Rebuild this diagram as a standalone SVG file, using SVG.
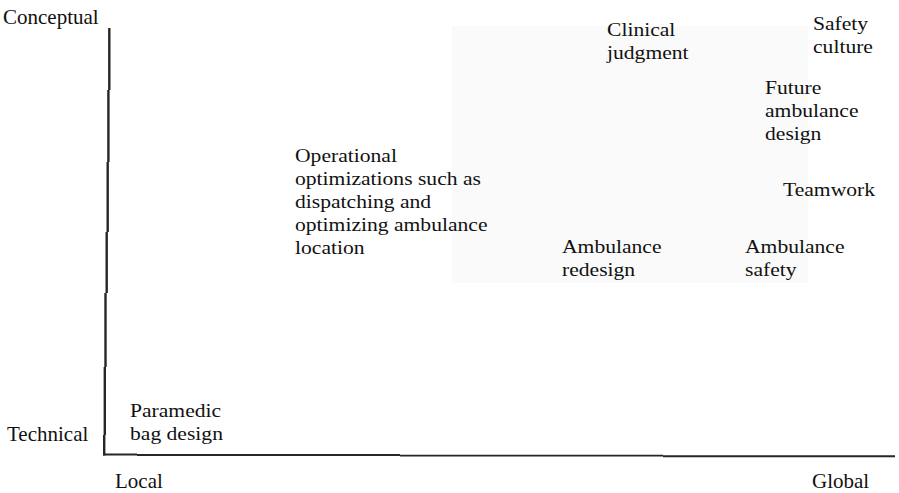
<svg xmlns="http://www.w3.org/2000/svg" width="899" height="493" viewBox="0 0 899 493">
  <style>
    text { font-family: "Liberation Serif", "Times New Roman", serif; fill: #111111; }
    .axis-label { font-size: 21px; }
    .item { font-size: 18px; }
    .axis { stroke: #262626; fill: none; stroke-linecap: butt; }
    .zone { fill: #fafafa; stroke: none; }
  </style>

  <rect width="899" height="493" fill="#ffffff"/>

  <!-- shaded area behind the global / conceptual items -->
  <rect id="zone" class="zone" x="452" y="26" width="356" height="257"/>

  <!-- hand-drawn axes -->
  <g id="connectors">
    <g id="vertical-axis" class="axis" stroke-width="2.4">
      <line x1="109.3" y1="28" x2="109.3" y2="90"/>
      <line x1="108.4" y1="90" x2="108.4" y2="162"/>
      <line x1="107.7" y1="162" x2="107.7" y2="232"/>
      <line x1="106.7" y1="232" x2="106.7" y2="293"/>
      <line x1="105.5" y1="293" x2="105.5" y2="367"/>
      <line x1="104.8" y1="367" x2="104.8" y2="435"/>
      <line x1="104.2" y1="435" x2="104.2" y2="455.5"/>
    </g>
    <g id="horizontal-axis" class="axis" stroke-width="1.9">
      <line x1="103" y1="454.5" x2="137" y2="454.5"/>
      <line x1="137" y1="455" x2="400" y2="455"/>
      <line x1="400" y1="455.6" x2="663" y2="455.6"/>
      <line x1="663" y1="456.3" x2="895" y2="456.3"/>
    </g>
  </g>

  <!-- axis labels -->
  <g id="axis-labels">
    <text class="axis-label" x="3" y="24">Conceptual</text>
    <text class="axis-label" x="7" y="441">Technical</text>
    <text class="axis-label" x="115" y="488">Local</text>
    <text class="axis-label" x="812" y="488">Global</text>
  </g>

  <!-- plotted items (type set slightly wide) -->
  <g id="paramedic-bag">
    <text class="item" transform="translate(130 417) scale(1.2 1)"><tspan x="0" y="0">Paramedic</tspan><tspan x="0" y="23">bag design</tspan></text>
  </g>

  <g id="operational">
    <text class="item" transform="translate(295 162) scale(1.2 1)"><tspan x="0" y="0">Operational</tspan><tspan x="0" y="23">optimizations such as</tspan><tspan x="0" y="46">dispatching and</tspan><tspan x="0" y="69">optimizing ambulance</tspan><tspan x="0" y="92">location</tspan></text>
  </g>

  <g id="clinical-judgment">
    <text class="item" transform="translate(607 36) scale(1.2 1)"><tspan x="0" y="0">Clinical</tspan><tspan x="0" y="23">judgment</tspan></text>
  </g>

  <g id="safety-culture">
    <text class="item" transform="translate(813 30) scale(1.2 1)"><tspan x="0" y="0">Safety</tspan><tspan x="0" y="23">culture</tspan></text>
  </g>

  <g id="future-ambulance">
    <text class="item" transform="translate(765 94) scale(1.2 1)"><tspan x="0" y="0">Future</tspan><tspan x="0" y="23">ambulance</tspan><tspan x="0" y="46">design</tspan></text>
  </g>

  <g id="teamwork">
    <text class="item" transform="translate(783 196) scale(1.2 1)">Teamwork</text>
  </g>

  <g id="ambulance-redesign">
    <text class="item" transform="translate(562 253) scale(1.2 1)"><tspan x="0" y="0">Ambulance</tspan><tspan x="0" y="23">redesign</tspan></text>
  </g>

  <g id="ambulance-safety">
    <text class="item" transform="translate(745 253) scale(1.2 1)"><tspan x="0" y="0">Ambulance</tspan><tspan x="0" y="23">safety</tspan></text>
  </g>
</svg>
